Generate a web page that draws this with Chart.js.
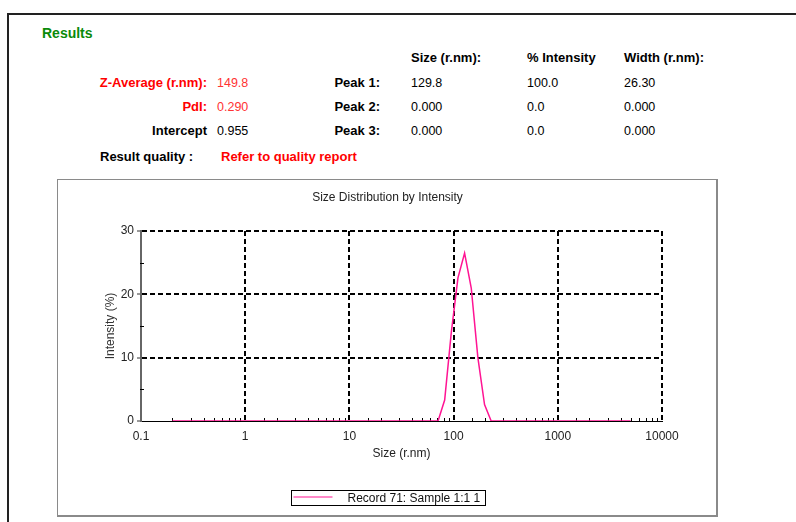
<!DOCTYPE html>
<html>
<head>
<meta charset="utf-8">
<script src="https://cdn.jsdelivr.net/npm/chart.js@4.4.1/dist/chart.umd.min.js"></script>
<style>
  html, body { margin: 0; padding: 0; background: #fff; }
  body { width: 796px; height: 522px; position: relative; overflow: hidden;
         font-family: "Liberation Sans", Arial, sans-serif; color: #000; }
  .frame-top { position: absolute; left: 7px; top: 13px; width: 789px; height: 0; border-top: 2px solid #222; }
  .frame-left { position: absolute; left: 7px; top: 13px; width: 0; height: 509px; border-left: 2px solid #222; }
  .t { position: absolute; line-height: 16px; height: 16px; white-space: nowrap; }
  .b { font-weight: bold; font-size: 13px; }
  .v { font-size: 12.5px; }
  .red { color: #f00; }
  .vred { color: #f33; }
  .r { text-align: right; }
  #heading { left: 42px; top: 25px; font-size: 14px; font-weight: bold; color: #0a8a0a; }
  #chartBox { position: absolute; left: 57px; top: 179px; width: 661px; height: 338px; box-sizing: border-box;
              border-left: 1px solid #8a8a8a; border-top: 1px solid #8a8a8a;
              border-right: 2px solid #8a8a8a; border-bottom: 2px solid #8a8a8a; }
  #chart { position: absolute; left: 57px; top: 179px; }
</style>
</head>
<body>
<div class="frame-top"></div>
<div class="frame-left"></div>
<div class="t" id="heading">Results</div>
<div id="results"></div>
<div id="chartBox"></div>
<canvas id="chart" width="661" height="338"></canvas>

<script>
// Summary values
const summaryLabels = ['Z-Average (r.nm):', 'PdI:', 'Intercept'];
const summaryValues = ['149.8', '0.290', '0.955'];
const summaryRed = [true, true, false];

// Peak table
const peakHeaders = ['Size (r.nm):', '% Intensity', 'Width (r.nm):'];
const peakLabels = ['Peak 1:', 'Peak 2:', 'Peak 3:'];
const peakSizes = ['129.8', '0.000', '0.000'];
const peakIntensities = ['100.0', '0.0', '0.0'];
const peakWidths = ['26.30', '0.000', '0.000'];

const qualityLabel = 'Result quality :';
const qualityText = 'Refer to quality report';

// Size classes (radius, nm)
const sizeBins = [
  0.2000, 0.2316, 0.2683, 0.3107, 0.3598, 0.4166, 0.4825, 0.5585, 0.6470, 0.7495,
  0.8680, 1.005, 1.164, 1.348, 1.561, 1.808, 2.094, 2.425, 2.808, 3.252,
  3.766, 4.361, 5.050, 5.850, 6.770, 7.845, 9.085, 10.52, 12.18, 14.11,
  16.34, 18.92, 21.91, 25.38, 29.39, 34.03, 39.41, 45.64, 52.85, 61.20,
  70.90, 82.10, 95.05, 110.1, 127.5, 147.7, 171.0, 198.1, 229.4, 265.6,
  307.6, 356.2, 412.5, 477.7, 553.0, 640.5, 742.0, 859.0, 995.0, 1153,
  1335, 1546, 1790, 2073, 2401, 2780, 3220, 3728, 4318, 5000
];

// Intensity (%) per size class
const intensity = [
  0, 0, 0, 0, 0, 0, 0, 0, 0, 0,
  0, 0, 0, 0, 0, 0, 0, 0, 0, 0,
  0, 0, 0, 0, 0, 0, 0, 0, 0, 0,
  0, 0, 0, 0, 0, 0, 0, 0, 0, 0,
  0, 3.3, 14.0, 22.6, 26.5, 21.0, 10.0, 2.6, 0, 0,
  0, 0, 0, 0, 0, 0, 0, 0, 0, 0,
  0, 0, 0, 0, 0, 0, 0, 0, 0, 0
];

const seriesLabel = 'Record 71: Sample 1:1 1';
const seriesColor = '#ff1493';
const yMinorTicks = [5, 15, 25];

// ---- results block ----
const res = document.getElementById('results');
function put(text, cls, left, centerY, rightAlign) {
  const d = document.createElement('div');
  d.className = 't ' + cls;
  d.textContent = text;
  d.style.top = (centerY - 8) + 'px';
  if (rightAlign) { d.style.right = (796 - left) + 'px'; d.style.textAlign = 'right'; }
  else d.style.left = left + 'px';
  res.appendChild(d);
}
const rowY = [83, 107, 131];
const colX = [411, 527, 624];
peakHeaders.forEach((h, i) => put(h, 'b', colX[i], 58));
summaryLabels.forEach((l, i) => {
  put(l, 'b' + (summaryRed[i] ? ' red' : ''), 207, rowY[i], true);
  put(summaryValues[i], 'v' + (summaryRed[i] ? ' vred' : ''), 217, rowY[i]);
});
peakLabels.forEach((l, i) => {
  put(l, 'b', 380, rowY[i], true);
  put(peakSizes[i], 'v', colX[0], rowY[i]);
  put(peakIntensities[i], 'v', colX[1], rowY[i]);
  put(peakWidths[i], 'v', colX[2], rowY[i]);
});
put(qualityLabel, 'b', 100, 157);
put(qualityText, 'b red', 221, 157);

// ---- chart ----
const FONT = '"Liberation Sans", Arial, sans-serif';
Chart.defaults.font.family = FONT;
Chart.defaults.font.size = 12;
Chart.defaults.color = '#222';

const isDecade = v => {
  const l = Math.log10(v);
  return Math.abs(l - Math.round(l)) < 1e-6;
};

const points = sizeBins.map((s, i) => ({ x: s, y: intensity[i] }));

const axisDecor = {
  id: 'axisDecor',
  beforeDatasetsDraw(chart) {
    const { ctx, chartArea, scales: { x, y } } = chart;
    ctx.save();
    ctx.strokeStyle = '#000';
    ctx.lineWidth = 1;
    ctx.beginPath();
    x.ticks.forEach(t => {
      if (!isDecade(t.value)) {
        const px = Math.round(x.getPixelForValue(t.value)) + 0.5;
        ctx.moveTo(px, chartArea.bottom);
        ctx.lineTo(px, chartArea.bottom - 3);
      }
    });
    yMinorTicks.forEach(v => {
      const py = Math.round(y.getPixelForValue(v)) + 0.5;
      ctx.moveTo(chartArea.left - 1, py);
      ctx.lineTo(chartArea.left + 3, py);
    });
    ctx.stroke();
    ctx.restore();
  },
  afterDraw(chart) {
    // boxed legend below the axis title
    const { ctx } = chart;
    const ds = chart.data.datasets[0];
    const bw = 194, bh = 15;
    const bx = Math.round(chart.width / 2 - bw / 2) + 0.5;
    const by = 311.5;
    ctx.save();
    ctx.strokeStyle = '#000';
    ctx.lineWidth = 1;
    ctx.strokeRect(bx, by, bw, bh);
    ctx.strokeStyle = ds.borderColor;
    ctx.beginPath();
    ctx.moveTo(bx + 2, by + 6.5);
    ctx.lineTo(bx + 41, by + 6.5);
    ctx.stroke();
    ctx.fillStyle = '#111';
    ctx.font = '12px ' + FONT;
    ctx.textBaseline = 'middle';
    ctx.textAlign = 'left';
    ctx.fillText(ds.label, bx + 56, by + 8);
    ctx.restore();
  }
};

new Chart(document.getElementById('chart'), {
  type: 'scatter',
  data: {
    datasets: [{
      label: seriesLabel,
      data: points,
      showLine: true,
      borderColor: seriesColor,
      backgroundColor: seriesColor,
      borderWidth: 1.5,
      pointRadius: 0,
      tension: 0
    }]
  },
  options: {
    responsive: false,
    animation: false,
    devicePixelRatio: 1,
    layout: { padding: 0 },
    plugins: {
      legend: { display: false },
      tooltip: { enabled: false },
      title: {
        display: true,
        text: 'Size Distribution by Intensity',
        color: '#222',
        font: { size: 12, weight: 'normal' },
        padding: { top: 11, bottom: 26.6 }
      }
    },
    scales: {
      x: {
        type: 'logarithmic',
        position: 'bottom',
        min: 0.1,
        max: 10000,
        afterFit(s) { s.height = 96; },
        grid: {
          color: c => (c.tick && isDecade(c.tick.value) && c.tick.value > 0.11) ? '#000' : 'rgba(0,0,0,0)',
          lineWidth: 2,
          drawTicks: false
        },
        border: { display: true, color: '#000', width: 1, dash: [5, 3] },
        ticks: {
          autoSkip: false,
          maxRotation: 0,
          padding: 8,
          color: '#222',
          font: { size: 12 },
          callback: v => isDecade(v) ? String(v) : ''
        },
        title: {
          display: true,
          text: 'Size (r.nm)',
          color: '#222',
          font: { size: 12 },
          padding: { top: 0, bottom: 56.4 }
        }
      },
      y: {
        type: 'linear',
        position: 'left',
        min: 0,
        max: 30,
        afterFit(s) { s.width = 84; },
        grid: {
          color: c => (c.tick && c.tick.value === 0) ? 'rgba(0,0,0,0)' : '#000',
          lineWidth: 2,
          drawTicks: true,
          tickLength: 4,
          tickColor: '#333',
          tickWidth: 1
        },
        border: { display: true, color: '#666', width: 2, dash: [5, 3] },
        ticks: { stepSize: 10, padding: 3, color: '#222', font: { size: 12 } },
        title: {
          display: true,
          text: 'Intensity (%)',
          color: '#333',
          font: { size: 12 },
          padding: { top: 46.4, bottom: 0 }
        }
      },
      spacer: {
        type: 'linear',
        position: 'right',
        display: true,
        afterFit(s) { s.width = 56; },
        grid: { display: false, drawTicks: false },
        border: { display: false },
        ticks: { display: false }
      }
    }
  },
  plugins: [axisDecor]
});
</script>
</body>
</html>
